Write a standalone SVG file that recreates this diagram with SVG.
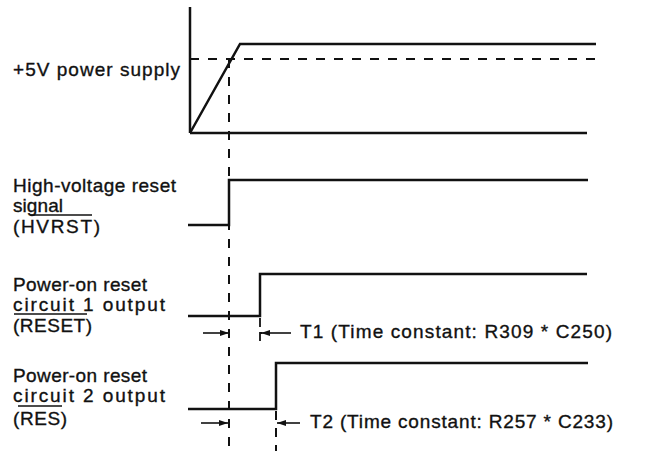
<svg xmlns="http://www.w3.org/2000/svg" width="647" height="451" viewBox="0 0 647 451">
<style>
  text { font-family: "Liberation Sans", Arial, sans-serif; font-size: 19px; fill: #111; stroke: #111; stroke-width: 0.35; }
  .sig { fill: none; stroke: #111; stroke-width: 2.5; stroke-linejoin: miter; }
  .dash { fill: none; stroke: #111; stroke-width: 2; stroke-dasharray: 9 9; }
  .solid { fill: none; stroke: #111; stroke-width: 1.8; }
  .ovl { stroke: #111; stroke-width: 1.5; }
  .arr { fill: none; stroke: #111; stroke-width: 1.6; marker-end: url(#ah); }
</style>
<defs>
  <marker id="ah" markerUnits="userSpaceOnUse" markerWidth="9" markerHeight="6" refX="9" refY="3" orient="auto">
    <path d="M0,0 L9,3 L0,6 z" fill="#111"/>
  </marker>
</defs>
<rect width="647" height="451" fill="#fff"/>

<g id="label-power">
  <text x="13" y="76" textLength="167" lengthAdjust="spacing">+5V power supply</text>
</g>
<g id="label-hvrst">
  <text x="13" y="192" textLength="163" lengthAdjust="spacing">High-voltage reset</text>
  <text x="13" y="212" textLength="50" lengthAdjust="spacing">signal</text>
  <text x="13" y="233" textLength="87" lengthAdjust="spacing">(HVRST)</text>
  <line class="ovl" x1="30" y1="215" x2="92" y2="215"/>
</g>
<g id="label-reset">
  <text x="13" y="291" textLength="134" lengthAdjust="spacing">Power-on reset</text>
  <text x="13" y="311" textLength="152" lengthAdjust="spacing">circuit 1 output</text>
  <text x="13" y="332" textLength="79" lengthAdjust="spacing">(RESET)</text>
  <line class="ovl" x1="14" y1="314" x2="87" y2="314"/>
</g>
<g id="label-res">
  <text x="13" y="382" textLength="134" lengthAdjust="spacing">Power-on reset</text>
  <text x="13" y="402" textLength="152" lengthAdjust="spacing">circuit 2 output</text>
  <text x="13" y="425" textLength="54" lengthAdjust="spacing">(RES)</text>
  <line class="ovl" x1="18" y1="406" x2="62" y2="406"/>
</g>

<g id="wave-power">
  <line class="sig" x1="190" y1="7" x2="190" y2="133"/>
  <line class="sig" x1="190" y1="133" x2="587" y2="133"/>
  <polyline class="sig" points="190,133 240,44 596,44"/>
  <line class="dash" x1="190" y1="59" x2="595" y2="59"/>
</g>
<g id="wave-hvrst">
  <polyline class="sig" points="188,225 229,225 229,180 588,180"/>
</g>
<g id="wave-reset">
  <polyline class="sig" points="188,316 260,316 260,274 587,274"/>
</g>
<g id="wave-res">
  <polyline class="sig" points="188,409 276,409 276,363 588,363"/>
</g>

<g id="connectors">
  <line class="dash" x1="229" y1="59" x2="229" y2="451"/>
  <line class="solid" x1="260" y1="318" x2="260" y2="327"/>
  <polyline class="solid" points="260,341 260,333 262,333"/>
  <line class="dash" x1="276" y1="411" x2="276" y2="451" style="stroke-dasharray: 9 8"/>
  <line class="arr" x1="203" y1="333" x2="229" y2="333"/>
  <line class="arr" x1="291" y1="333" x2="261" y2="333"/>
  <line class="arr" x1="201" y1="423" x2="228" y2="423"/>
  <line class="arr" x1="300" y1="423" x2="277" y2="423"/>
</g>
<g id="label-t1">
  <text x="300" y="338" textLength="312" lengthAdjust="spacing">T1 (Time constant: R309 * C250)</text>
</g>
<g id="label-t2">
  <text x="310" y="428" textLength="303" lengthAdjust="spacing">T2 (Time constant: R257 * C233)</text>
</g>
</svg>
